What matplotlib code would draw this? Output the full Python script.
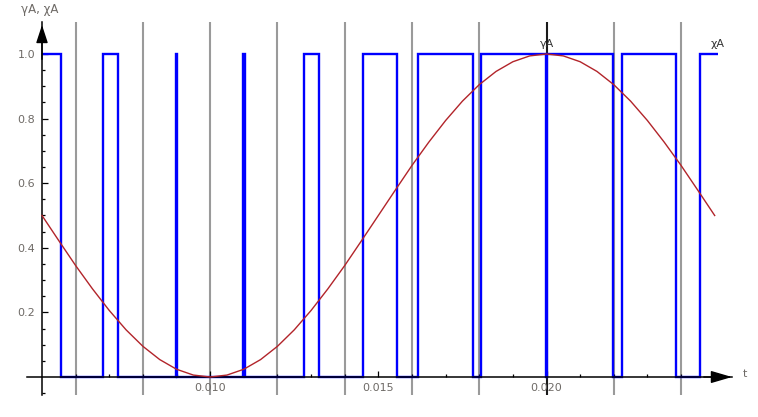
import matplotlib
matplotlib.use("Agg")
import matplotlib.pyplot as plt

# PWM output xA: switching instants (s) and level held after each one
t_edges = [0.005, 0.00556, 0.0068, 0.00726, 0.008975, 0.009025, 0.010975, 0.011025,
           0.01278, 0.01323, 0.01453, 0.01554, 0.01619, 0.01782, 0.01806,
           0.019975, 0.020025, 0.02197, 0.02225, 0.02384, 0.02455, 0.0251]
xA_level = [1, 0, 1, 0, 1, 0, 1, 0, 1, 0, 1, 0, 1, 0, 1, 0, 1, 0, 1, 0, 1]

# reference signal yA
t_curve = [0.005, 0.0055, 0.006, 0.0065, 0.007, 0.0075, 0.008, 0.0085, 0.009, 0.0095,
           0.010, 0.0105, 0.011, 0.0115, 0.012, 0.0125, 0.013, 0.0135, 0.014, 0.0145,
           0.015, 0.0155, 0.016, 0.0165, 0.017, 0.0175, 0.018, 0.0185, 0.019, 0.0195,
           0.020, 0.0205, 0.021, 0.0215, 0.022, 0.0225, 0.023, 0.0235, 0.024, 0.0245,
           0.025]
yA = [0.500, 0.422, 0.345, 0.273, 0.206, 0.146, 0.095, 0.054, 0.024, 0.006,
      0.000, 0.006, 0.024, 0.054, 0.095, 0.146, 0.206, 0.273, 0.345, 0.422,
      0.500, 0.578, 0.655, 0.727, 0.794, 0.854, 0.905, 0.946, 0.976, 0.994,
      1.000, 0.994, 0.976, 0.946, 0.905, 0.854, 0.794, 0.727, 0.655, 0.578,
      0.500]

grid_t = [0.006, 0.008, 0.010, 0.012, 0.014, 0.016, 0.018, 0.020, 0.022, 0.024]
x_major = [0.010, 0.015, 0.020]
x_major_labels = ["0.010", "0.015", "0.020"]
x_minor = [0.006, 0.007, 0.008, 0.009, 0.011, 0.012, 0.013, 0.014, 0.016, 0.017,
           0.018, 0.019, 0.021, 0.022, 0.023, 0.024]
y_major = [0.2, 0.4, 0.6, 0.8, 1.0]
y_major_labels = ["0.2", "0.4", "0.6", "0.8", "1.0"]
y_minor = [-0.05, 0.05, 0.1, 0.15, 0.25, 0.3, 0.35, 0.45, 0.5, 0.55, 0.65, 0.7,
           0.75, 0.85, 0.9, 0.95]

label_col = "#6e6a66"

fig = plt.figure(figsize=(7.58, 4.17), dpi=100)
ax = fig.add_axes([27 / 758, 22 / 417, 705 / 758, 373 / 417])
ax.set_xlim(0.004554, 0.025515)
ax.set_ylim(-0.0557, 1.099)

for g in grid_t:
    col = "#1a1a1a" if g == 0.020 else "#9a9a9a"
    ax.axvline(g, color=col, lw=1.5, zorder=1)

ax.plot(t_curve, yA, color="#b2242a", lw=1.0, zorder=3)
ax.stairs(xA_level, t_edges, baseline=None, color="#0000ff", lw=1.7, zorder=2)

for side in ["top", "right"]:
    ax.spines[side].set_visible(False)
ax.spines["left"].set_position(("data", 0.005))
ax.spines["bottom"].set_position(("data", 0.0))
for side in ["left", "bottom"]:
    ax.spines[side].set_linewidth(1.1)
    ax.spines[side].set_zorder(2.5)

ax.set_xticks(x_major, x_major_labels)
ax.set_xticks(x_minor, minor=True)
ax.set_yticks(y_major, y_major_labels)
ax.set_yticks(y_minor, minor=True)
ax.tick_params(which="both", direction="in", labelsize=8, labelcolor=label_col, width=0.9)
ax.tick_params(which="major", length=4)
ax.tick_params(which="minor", length=2.5)
ax.tick_params(axis="x", pad=4)
ax.tick_params(axis="y", pad=5)

# axis arrows
ax.annotate("", xy=(1.0, 0.0), xycoords=("axes fraction", "data"),
            xytext=(0.96, 0.0), textcoords=("axes fraction", "data"),
            arrowprops=dict(arrowstyle="-|>,head_length=1.3,head_width=0.38",
                            color="black", lw=1.0, shrinkA=0, shrinkB=0,
                            mutation_scale=10), annotation_clip=False)
ax.annotate("", xy=(0.005, 0.992), xycoords=("data", "axes fraction"),
            xytext=(0.005, 0.9), textcoords=("data", "axes fraction"),
            arrowprops=dict(arrowstyle="-|>,head_length=1.1,head_width=0.36",
                            color="black", lw=1.0, shrinkA=0, shrinkB=0,
                            mutation_scale=10), annotation_clip=False)

ax.text(0.020, 1.015, "γA", fontsize=8, color="#333333", ha="center", va="bottom")
ax.text(0.0251, 1.015, "χA", fontsize=8, color="#333333", ha="center", va="bottom")

fig.text(40 / 758, 1 - 9 / 417, "γA, χA", fontsize=8.5, color=label_col,
         ha="center", va="center")
fig.text(745 / 758, 1 - 374 / 417, "t", fontsize=8, color=label_col,
         ha="center", va="center")

fig.savefig("out.png", dpi=100)
